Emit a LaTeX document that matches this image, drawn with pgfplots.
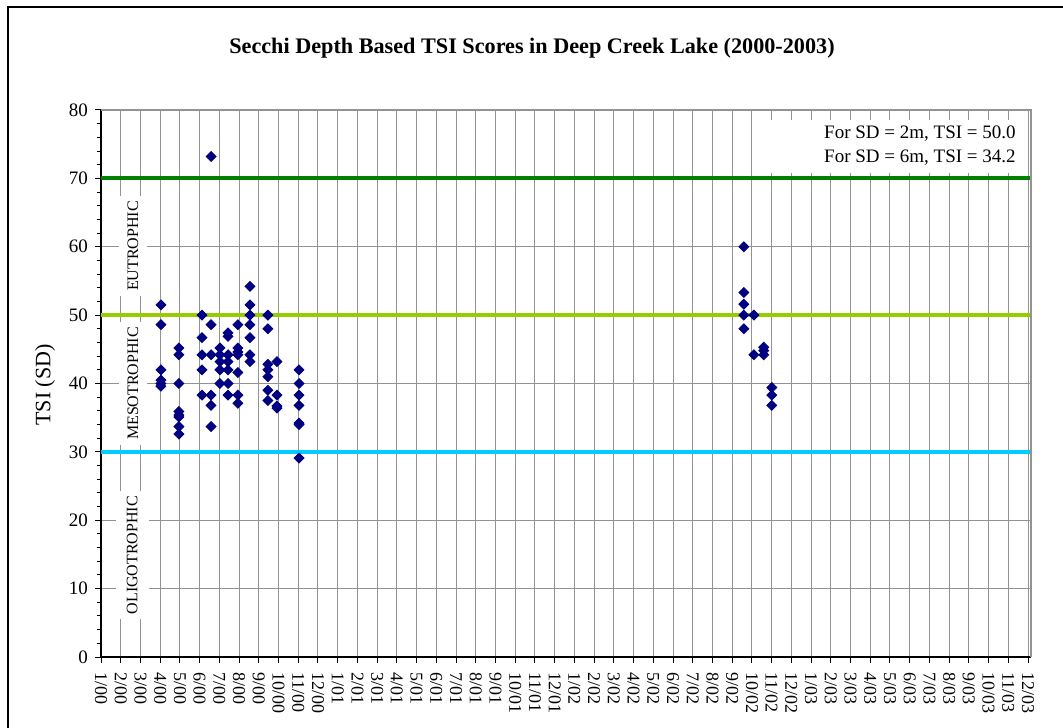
\documentclass[border=0pt]{standalone}
\usepackage{pgfplots}
\pgfplotsset{compat=1.18}
\usepackage{fontspec}
\setmainfont{Liberation Serif}
\definecolor{navyblue}{HTML}{000080}
\definecolor{eugreen}{HTML}{008000}
\definecolor{mesogreen}{HTML}{99CC00}
\definecolor{oligoblue}{HTML}{00CCFF}
\begin{document}
\begin{tikzpicture}
\path[use as bounding box] (-50.5pt,-35pt) rectangle (481pt,328.5pt);
\fill[white] (-50.5pt,-35pt) rectangle (481pt,328.5pt);
\draw[line width=1pt] (-46.5pt,-40pt) -- (-46.5pt,325pt) -- (485pt,325pt);
\begin{axis}[
  at={(0pt,0pt)}, anchor=south west,
  scale only axis, width=465pt, height=273.5pt,
  xmin=0, xmax=47.15, ymin=0, ymax=80,
  axis x line*=bottom, axis y line*=left,
  axis line style={black, line width=0.6pt},
  tick align=outside,
  major tick length=3pt, minor tick length=2.2pt,
  tick style={black, line width=0.5pt},
  xtick={0,...,47},
  xticklabels={1/00,2/00,3/00,4/00,5/00,6/00,7/00,8/00,9/00,10/00,11/00,12/00,
               1/01,2/01,3/01,4/01,5/01,6/01,7/01,8/01,9/01,10/01,11/01,12/01,
               1/02,2/02,3/02,4/02,5/02,6/02,7/02,8/02,9/02,10/02,11/02,12/02,
               1/03,2/03,3/03,4/03,5/03,6/03,7/03,8/03,9/03,10/03,11/03,12/03},
  xticklabel style={rotate=-90, anchor=west, font=\fontsize{9}{10}\selectfont, inner xsep=4.5pt, inner ysep=2pt},
  ytick={0,10,...,80},
  minor y tick num=4,
  yticklabel style={font=\fontsize{9.5}{11}\selectfont},
  /pgf/number format/assume math mode=true,
  xmajorgrids, ymajorgrids,
  major grid style={gray!85, line width=0.5pt},
  clip=false,
]
% category labels with white boxes
\node[rotate=90, fill=white, inner xsep=2.5pt, inner ysep=4.5pt, font=\fontsize{8}{9}\selectfont] at (axis cs:1.62,60.1) {EUTROPHIC};
\node[rotate=90, fill=white, inner xsep=2.5pt, inner ysep=4.5pt, font=\fontsize{8}{9}\selectfont] at (axis cs:1.62,40.0) {MESOTROPHIC};
\node[rotate=90, fill=white, inner xsep=2.5pt, inner ysep=5.5pt, font=\fontsize{8}{9}\selectfont] at (axis cs:1.58,14.9) {OLIGOTROPHIC};
% threshold lines
\addplot[eugreen, line width=2pt, no markers] coordinates {(0,70) (47.15,70)};
\addplot[mesogreen, line width=2pt, no markers] coordinates {(0,50) (47.15,50)};
\addplot[oligoblue, line width=2pt, no markers] coordinates {(0,30) (47.15,30)};
% data
\addplot[only marks, mark=square*, mark size=1.75pt, mark options={rotate=45, fill=navyblue, draw=navyblue}] table {
x y
3.04 51.5
3.04 48.6
3.04 42.0
3.04 40.5
3.04 40.0
3.04 39.6
3.95 45.2
3.95 44.2
3.95 40.0
3.95 35.9
3.95 35.4
3.95 35.1
3.95 33.7
3.95 32.6
5.12 50.0
5.12 46.7
5.12 44.2
5.12 42.0
5.12 38.3
5.58 73.2
5.58 48.6
5.58 44.2
5.58 38.3
5.58 36.8
5.58 33.7
6.03 45.2
6.03 44.2
6.03 43.2
6.03 42.0
6.03 40.0
6.44 47.4
6.44 46.9
6.44 44.2
6.44 43.2
6.44 42.0
6.44 40.0
6.44 38.3
6.94 48.6
6.94 45.2
6.94 44.6
6.94 44.2
6.94 41.6
6.94 38.3
6.94 37.1
7.55 54.2
7.55 51.5
7.55 50.0
7.55 48.6
7.55 46.7
7.55 44.2
7.55 43.2
8.46 50.0
8.46 48.0
8.46 42.8
8.46 42.0
8.46 41.0
8.46 39.0
8.46 37.5
8.92 43.2
8.92 38.3
8.92 36.7
8.92 36.4
10.04 42.0
10.04 40.0
10.04 38.3
10.04 36.8
10.04 34.2
10.04 34.0
10.04 29.1
32.59 60.0
32.59 53.3
32.59 51.6
32.59 50.0
32.59 48.0
33.10 50.0
33.10 44.2
33.60 45.3
33.60 44.8
33.60 44.2
34.01 39.4
34.01 38.3
34.01 36.8
};
% plot area border (top, right)
\draw[gray!85, line width=0.6pt] (rel axis cs:0,1) -- (rel axis cs:1,1) -- (rel axis cs:1,0);
\end{axis}
\fill[white] (333pt,242pt) rectangle (463.5pt,268.5pt);
\node[font=\fontsize{11.1}{13}\selectfont\bfseries] at (215.5pt,304.5pt) {Secchi Depth Based TSI Scores in Deep Creek Lake (2000-2003)};
\node[rotate=90, font=\fontsize{11}{13}\selectfont] at (-28pt,136pt) {TSI (SD)};
\node[anchor=east, align=right, inner sep=0pt, font=\fontsize{9.5}{12}\selectfont] at (457.5pt,255.5pt) {For SD = 2m, TSI = 50.0\\For SD = 6m, TSI = 34.2};
\end{tikzpicture}
\end{document}
